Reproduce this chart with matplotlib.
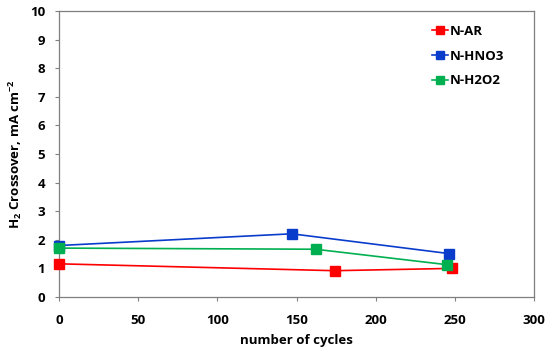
import matplotlib
matplotlib.use("Agg")
import matplotlib.pyplot as plt

# данные
cycles_ar = [0, 174, 248]
cross_ar = [1.16, 0.92, 1.00]
cycles_hno3 = [0, 147, 246]
cross_hno3 = [1.80, 2.21, 1.52]
cycles_h2o2 = [0, 162, 245]
cross_h2o2 = [1.71, 1.67, 1.13]

series = [
    ("N-AR", cycles_ar, cross_ar, "#ff0000"),
    ("N-HNO3", cycles_hno3, cross_hno3, "#0a3ccc"),
    ("N-H2O2", cycles_h2o2, cross_h2o2, "#00b050"),
]

plt.rcParams["font.family"] = ["Open Sans", "DejaVu Sans"]
plt.rcParams["font.weight"] = "bold"
plt.rcParams["mathtext.fontset"] = "custom"
plt.rcParams["mathtext.bf"] = "Open Sans:bold"
plt.rcParams["mathtext.rm"] = "Open Sans:bold"

fig = plt.figure(figsize=(5.5, 3.52), dpi=100)
ax = fig.add_axes([59 / 550, 55 / 352, 475 / 550, 286 / 352])

for name, x, y, c in series:
    ax.plot(x, y, color=c, lw=1.2, marker="s", ms=7, label=name, clip_on=False, zorder=3)

ax.set_xlim(0, 300)
ax.set_ylim(0, 10)
ax.set_xticks(range(0, 301, 50))
ax.set_yticks(range(0, 11))
ax.tick_params(direction="out", length=3, width=0.8, color="#808080", labelsize=9.5)
ax.tick_params(axis="x", pad=9)
ax.tick_params(axis="y", pad=7)
for s in ax.spines.values():
    s.set_color("#7f7f7f")
    s.set_linewidth(0.9)

ax.set_xlabel("number of cycles", fontsize=9.5, fontweight="bold", labelpad=5)
ax.set_ylabel(r"H$_{\mathbf{2}}$ Crossover, mA cm$^{\mathbf{-2}}$", fontsize=9.5, fontweight="bold", labelpad=4)

leg = ax.legend(loc="upper left", bbox_to_anchor=(0.772, 0.975), frameon=False, fontsize=9.5,
                borderpad=0, handlelength=1.2, handletextpad=0.1, labelspacing=0.9,
                markerscale=0.85)

fig.savefig("out.png", dpi=100)
